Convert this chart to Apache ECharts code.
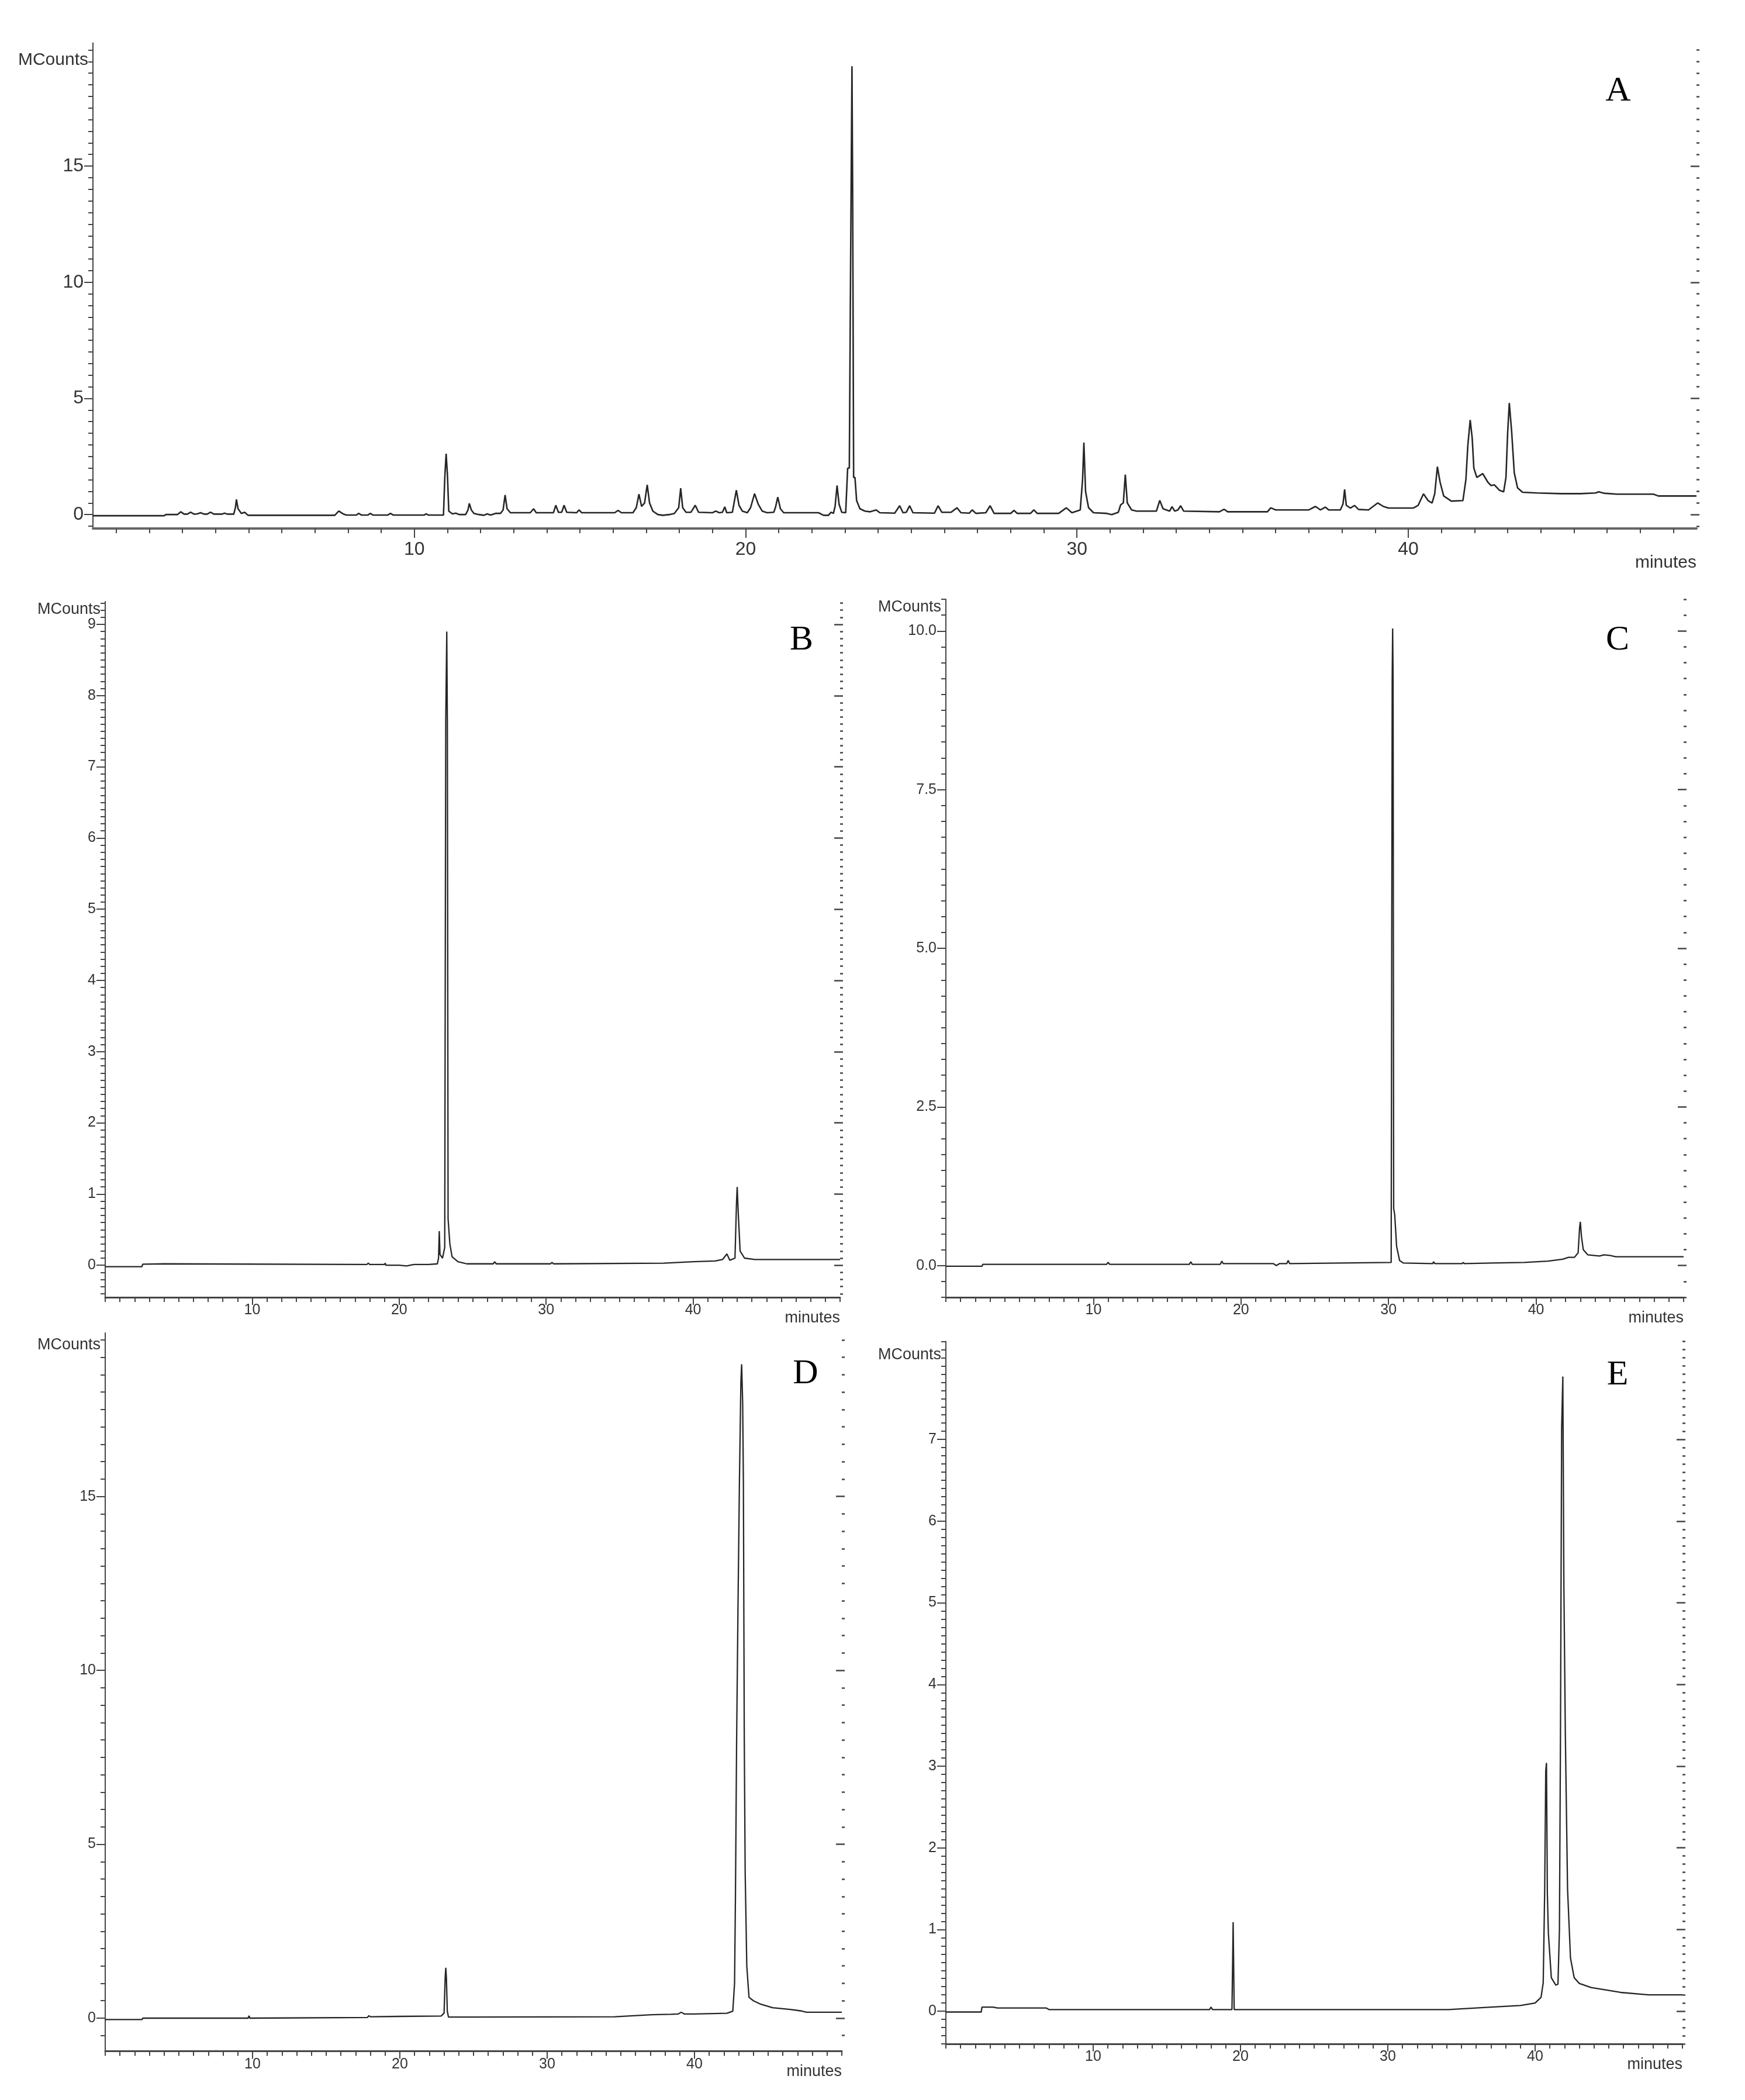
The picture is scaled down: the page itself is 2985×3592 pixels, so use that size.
<!DOCTYPE html>
<html><head><meta charset="utf-8">
<script src="https://cdn.jsdelivr.net/npm/echarts@6/dist/echarts.min.js"></script>
<style>html,body{margin:0;padding:0;background:#fff}#c{width:2985px;height:3592px}</style>
</head><body><div id="c"></div>
<script>
// ---------------- DATA (time in minutes, signal in MCounts) ----------------
const traceA = [
[0.3,-0.05],[2.45,-0.05],[2.5,0.0],[2.85,0.0],[2.95,0.12],[3.05,0.02],[3.15,0.02],[3.25,0.1],[3.35,0.02],[3.45,0.03],[3.55,0.08],[3.65,0.02],[3.75,0.02],[3.85,0.1],[3.95,0.02],[4.2,0.02],[4.27,0.06],[4.35,0.02],[4.55,0.02],[4.6,0.3],[4.63,0.65],[4.68,0.25],[4.78,0.05],[4.88,0.1],[4.98,-0.03],
[7.6,-0.03],[7.72,0.15],[7.85,0.03],[7.95,-0.02],[8.25,-0.02],[8.32,0.05],[8.4,-0.02],[8.6,-0.02],[8.67,0.05],[8.75,-0.02],[9.2,-0.02],[9.28,0.05],[9.36,-0.02],[10.3,-0.02],[10.36,0.03],[10.42,-0.02],[10.88,-0.02],[10.92,1.6],[10.96,2.62],[11.0,1.7],[11.04,0.15],[11.15,0.03],[11.25,0.06],[11.35,0.0],[11.55,0.0],[11.62,0.2],[11.66,0.48],[11.72,0.2],[11.8,0.05],[11.95,0.0],[12.1,-0.03],[12.2,0.03],[12.3,-0.02],[12.45,0.05],[12.6,0.05],[12.68,0.2],[12.74,0.84],[12.8,0.25],[12.9,0.08],[13.5,0.08],[13.6,0.25],[13.68,0.08],[14.2,0.08],[14.27,0.4],[14.35,0.1],[14.45,0.1],[14.52,0.4],[14.6,0.1],[14.9,0.08],[14.97,0.2],[15.05,0.08],[16.05,0.08],[16.15,0.18],[16.25,0.08],[16.6,0.08],[16.7,0.3],[16.78,0.88],[16.86,0.35],[16.95,0.5],[17.03,1.28],[17.1,0.5],[17.2,0.15],[17.35,0.0],[17.5,-0.03],[17.7,0.0],[17.85,0.05],[17.98,0.3],[18.04,1.13],[18.1,0.3],[18.2,0.1],[18.35,0.1],[18.48,0.4],[18.58,0.1],[19.0,0.08],[19.1,0.15],[19.2,0.08],[19.3,0.1],[19.37,0.33],[19.43,0.08],[19.6,0.1],[19.72,1.05],[19.8,0.4],[19.9,0.15],[20.05,0.08],[20.15,0.3],[20.27,0.9],[20.38,0.45],[20.5,0.15],[20.65,0.08],[20.85,0.1],[20.9,0.3],[20.97,0.75],[21.05,0.25],[21.15,0.08],[22.2,0.08],[22.35,-0.03],[22.5,-0.03],[22.58,0.1],[22.65,0.05],[22.7,0.35],[22.76,1.25],[22.82,0.45],[22.9,0.1],[23.02,0.08],[23.08,2.0],[23.13,2.0],[23.17,11.1],[23.21,19.3],[23.23,14.0],[23.26,1.6],[23.3,1.6],[23.35,0.6],[23.45,0.25],[23.6,0.15],[23.75,0.12],[23.94,0.2],[24.05,0.08],[24.5,0.06],[24.65,0.38],[24.75,0.08],[24.85,0.1],[24.95,0.38],[25.05,0.08],[25.7,0.06],[25.81,0.38],[25.92,0.1],[26.2,0.1],[26.38,0.29],[26.5,0.08],[26.75,0.06],[26.84,0.2],[26.95,0.05],[27.25,0.08],[27.38,0.38],[27.5,0.05],[28.0,0.05],[28.1,0.18],[28.2,0.05],[28.6,0.05],[28.7,0.2],[28.8,0.05],[29.45,0.05],[29.68,0.29],[29.85,0.08],[30.1,0.2],[30.17,1.5],[30.21,3.1],[30.26,1.0],[30.35,0.3],[30.5,0.08],[30.9,0.05],[31.05,0.0],[31.25,0.1],[31.32,0.42],[31.4,0.5],[31.46,1.72],[31.52,0.5],[31.65,0.2],[31.8,0.15],[32.4,0.15],[32.5,0.61],[32.6,0.25],[32.8,0.15],[32.87,0.34],[32.95,0.15],[33.05,0.2],[33.13,0.38],[33.22,0.15],[34.3,0.12],[34.44,0.23],[34.55,0.12],[35.75,0.12],[35.85,0.29],[36.0,0.2],[37.0,0.2],[37.2,0.35],[37.35,0.2],[37.5,0.32],[37.6,0.2],[37.95,0.2],[38.03,0.45],[38.08,1.08],[38.13,0.4],[38.25,0.28],[38.38,0.39],[38.5,0.22],[38.8,0.2],[39.08,0.5],[39.25,0.35],[39.4,0.28],[40.15,0.28],[40.3,0.4],[40.46,0.89],[40.6,0.6],[40.72,0.5],[40.8,0.9],[40.88,2.06],[40.96,1.4],[41.07,0.8],[41.3,0.58],[41.65,0.6],[41.74,1.5],[41.8,3.0],[41.87,4.07],[41.93,3.3],[41.98,2.0],[42.07,1.6],[42.25,1.76],[42.4,1.4],[42.5,1.25],[42.6,1.28],[42.75,1.05],[42.88,0.98],[42.95,1.6],[43.0,3.5],[43.05,4.8],[43.12,3.6],[43.2,1.8],[43.3,1.15],[43.45,0.96],[43.9,0.93],[44.6,0.9],[45.2,0.9],[45.65,0.93],[45.75,0.98],[45.9,0.92],[46.3,0.88],[47.4,0.88],[47.55,0.8],[48.7,0.8]
];
const traceB = [
[0,-0.02],[2.5,-0.02],[2.55,0.015],[4.0,0.02],[17.8,0.01],[17.9,0.03],[18.0,0.01],[19.0,0.01],[19.05,0.03],[19.1,0.0],[20.0,0.0],[20.5,-0.01],[21.0,0.01],[22.0,0.01],[22.6,0.02],[22.68,0.1],[22.73,0.48],[22.78,0.15],[22.95,0.1],[23.1,0.25],[23.17,7.65],[23.24,8.9],[23.28,7.6],[23.33,0.65],[23.45,0.3],[23.6,0.12],[24.0,0.05],[24.6,0.02],[26.4,0.02],[26.5,0.05],[26.6,0.02],[30.3,0.02],[30.4,0.04],[30.5,0.02],[38.0,0.03],[40.0,0.05],[41.5,0.06],[42.0,0.08],[42.3,0.16],[42.5,0.07],[42.85,0.1],[42.95,0.85],[43.0,1.1],[43.08,0.7],[43.2,0.2],[43.5,0.1],[44.2,0.08],[50,0.08]
];
const traceC = [
[0,-0.01],[2.45,-0.01],[2.5,0.02],[10.9,0.02],[11.0,0.05],[11.1,0.02],[16.5,0.02],[16.6,0.06],[16.7,0.02],[18.6,0.02],[18.7,0.07],[18.8,0.03],[22.2,0.03],[22.4,0.0],[22.6,0.03],[23.1,0.03],[23.2,0.08],[23.3,0.03],[30.18,0.05],[30.25,9.27],[30.28,10.04],[30.31,9.27],[30.35,0.9],[30.42,0.8],[30.55,0.3],[30.75,0.08],[31.0,0.04],[33.0,0.03],[33.05,0.06],[33.15,0.03],[35.0,0.03],[35.05,0.05],[35.15,0.03],[37.0,0.04],[39.2,0.05],[40.8,0.07],[41.8,0.1],[42.2,0.13],[42.6,0.13],[42.85,0.2],[42.95,0.6],[43.0,0.69],[43.08,0.45],[43.2,0.25],[43.5,0.17],[44.3,0.15],[44.6,0.17],[45.0,0.16],[45.4,0.14],[50,0.14]
];
const traceD = [
[0,-0.04],[2.5,-0.04],[2.55,0.0],[9.7,0.0],[9.76,0.07],[9.82,0.0],[17.8,0.02],[17.9,0.07],[18.0,0.04],[20.0,0.05],[22.8,0.06],[23.0,0.14],[23.08,1.2],[23.12,1.45],[23.16,1.15],[23.22,0.2],[23.3,0.03],[25.0,0.03],[34.6,0.04],[37.1,0.1],[38.4,0.11],[38.9,0.12],[39.1,0.17],[39.3,0.12],[40.0,0.12],[42.2,0.14],[42.6,0.2],[42.72,1.0],[42.78,3.5],[42.86,8.0],[42.95,11.7],[43.05,15.4],[43.15,18.3],[43.2,18.8],[43.27,17.7],[43.32,15.4],[43.38,8.0],[43.44,4.2],[43.55,1.5],[43.7,0.6],[44.0,0.5],[44.5,0.4],[45.3,0.3],[46.5,0.25],[47.2,0.21],[47.6,0.17],[50,0.17]
];
const traceE = [
[0,-0.01],[2.4,-0.01],[2.45,0.05],[3.2,0.05],[3.5,0.04],[6.8,0.04],[7.0,0.02],[17.9,0.02],[18.0,0.05],[18.1,0.02],[19.42,0.02],[19.47,0.65],[19.5,1.09],[19.53,0.65],[19.57,0.02],[34.1,0.02],[37.0,0.05],[39.0,0.07],[40.0,0.1],[40.4,0.17],[40.55,0.35],[40.65,1.5],[40.72,2.94],[40.77,3.04],[40.83,1.44],[40.9,0.95],[41.1,0.41],[41.4,0.32],[41.55,0.33],[41.65,1.0],[41.72,3.37],[41.8,7.15],[41.88,7.77],[41.95,5.24],[42.05,3.4],[42.2,1.5],[42.4,0.65],[42.65,0.41],[43.0,0.34],[43.8,0.29],[45.8,0.23],[47.7,0.2],[50,0.2]
];
// tick labels
const xTickLabels = [10, 20, 30, 40];
const yTickLabelsA = [0, 5, 10, 15];
const yTickLabelsB = [0, 1, 2, 3, 4, 5, 6, 7, 8, 9];
const yTickLabelsC = [0, 2.5, 5, 7.5, 10];
const yTickLabelsD = [0, 5, 10, 15];
const yTickLabelsE = [0, 1, 2, 3, 4, 5, 6, 7];
const panelLetters = ['A', 'B', 'C', 'D', 'E'];

// ---------------- LAYOUT / STYLE ----------------
const panels = [
  {trace: traceA, yLabels: yTickLabelsA, yFmt: v => String(v), grid: {left: 159, top: 73.5, width: 2743, height: 830.5},
   x: [0.3, 48.7], y: [-0.6, 20.3], yMinor: 0.5, big: true, nameGapY: -29, letter: [2768, 156]},
  {trace: traceB, yLabels: yTickLabelsB, yFmt: v => String(v), grid: {left: 180, top: 1029, width: 1257, height: 1190},
   x: [0, 50], y: [-0.45, 9.32], yMinor: 0.1, big: false, nameGapY: -14, letter: [1371, 1095]},
  {trace: traceC, yLabels: yTickLabelsC, yFmt: v => v.toFixed(1), grid: {left: 1618, top: 1025, width: 1262, height: 1194},
   x: [0, 50], y: [-0.5, 10.5], yMinor: 0.25, big: false, nameGapY: -14, letter: [2767, 1095]},
  {trace: traceD, yLabels: yTickLabelsD, yFmt: v => String(v), grid: {left: 180, top: 2280, width: 1260, height: 1228.5},
   x: [0, 50], y: [-0.95, 19.7], yMinor: 0.5, big: false, nameGapY: -21, letter: [1378, 2350]},
  {trace: traceE, yLabels: yTickLabelsE, yFmt: v => String(v), grid: {left: 1618, top: 2294.5, width: 1260, height: 1201.5},
   x: [0, 50], y: [-0.4, 8.2], yMinor: 0.1, big: false, nameGapY: -23, letter: [2767, 2352]}
];

function stepsIn(min, max, step) {
  const out = [];
  const k0 = Math.ceil(min / step - 1e-9), k1 = Math.floor(max / step + 1e-9);
  for (let k = k0; k <= k1; k++) out.push(+(k * step).toFixed(4));
  return out;
}

const FONT = 'Liberation Sans';
const grids = [], xAxes = [], yAxes = [], series = [], graphics = [];
panels.forEach((p, i) => {
  grids.push(Object.assign({containLabel: false}, p.grid));
  const labFont = p.big ? 32 : 25, nameFont = p.big ? 30 : 27;
  const axisCol = '#444', labCol = '#333';
  const xMinorTicks = stepsIn(p.x[0], p.x[1], 1);
  const xMajor = xTickLabels.filter(v => v >= p.x[0] && v <= p.x[1]);
  xAxes.push({
    gridIndex: i, type: 'value', position: 'bottom', min: p.x[0], max: p.x[1],
    axisLine: {show: true, onZero: false, lineStyle: {color: p.big ? '#666' : axisCol, width: p.big ? 4 : 3}},
    axisTick: {show: true, customValues: xMajor, length: p.big ? 16 : 13, lineStyle: {color: axisCol, width: 2}},
    axisLabel: {show: true, customValues: xMajor, fontSize: labFont, fontFamily: FONT, color: labCol, margin: p.big ? 20 : 10},
    splitLine: {show: false},
    name: 'minutes', nameLocation: 'end', nameGap: 0, nameMoveOverlap: false,
    nameTextStyle: {fontSize: nameFont, fontFamily: FONT, color: labCol, align: 'right', verticalAlign: 'top', padding: [p.big ? 44 : 22, 0, 0, 0]}
  });
  xAxes.push({
    gridIndex: i, type: 'value', position: 'bottom', min: p.x[0], max: p.x[1],
    axisLine: {show: false, onZero: false},
    axisTick: {show: true, customValues: xMinorTicks, length: 8, lineStyle: {color: axisCol, width: 2}},
    axisLabel: {show: false}, splitLine: {show: false}
  });
  const yMinorTicks = stepsIn(p.y[0], p.y[1], p.yMinor);
  const yMajor = p.yLabels.filter(v => v >= p.y[0] && v <= p.y[1]);
  yAxes.push({
    gridIndex: i, type: 'value', position: 'left', min: p.y[0], max: p.y[1],
    axisLine: {show: true, onZero: false, lineStyle: {color: axisCol, width: 2}},
    axisTick: {show: true, customValues: yMajor, length: 15, lineStyle: {color: axisCol, width: 2}},
    axisLabel: {show: true, customValues: yMajor, formatter: p.yFmt, fontSize: labFont, fontFamily: FONT, color: labCol, margin: 16},
    splitLine: {show: false},
    name: 'MCounts', nameLocation: 'end', nameGap: p.nameGapY, nameMoveOverlap: false,
    nameTextStyle: {fontSize: nameFont, fontFamily: FONT, color: labCol, align: 'right', verticalAlign: 'middle', padding: [0, 8, 0, 0]}
  });
  yAxes.push({
    gridIndex: i, type: 'value', position: 'left', min: p.y[0], max: p.y[1],
    axisLine: {show: false, onZero: false},
    axisTick: {show: true, customValues: yMinorTicks, length: 8, lineStyle: {color: axisCol, width: 2}},
    axisLabel: {show: false}, splitLine: {show: false}
  });
  // right-hand dotted tick column
  yAxes.push({
    gridIndex: i, type: 'value', position: 'right', min: p.y[0], max: p.y[1],
    axisLine: {show: false, onZero: false},
    axisTick: {show: true, inside: false, customValues: yMinorTicks, length: 5, lineStyle: {color: '#444', width: 2.5}},
    axisLabel: {show: false}, splitLine: {show: false}
  });
  yAxes.push({
    gridIndex: i, type: 'value', position: 'right', min: p.y[0], max: p.y[1],
    axisLine: {show: false, onZero: false},
    axisTick: {show: true, inside: true, customValues: yMajor, length: 10, lineStyle: {color: '#444', width: 2.5}},
    axisLabel: {show: false}, splitLine: {show: false}
  });
  series.push({
    type: 'line', xAxisIndex: 2 * i, yAxisIndex: 4 * i, data: p.trace,
    showSymbol: false, symbol: 'none', clip: true, silent: true,
    lineStyle: {color: '#262626', width: p.big ? 2.6 : 2.3}
  });
  graphics.push({
    type: 'text', x: p.letter[0], y: p.letter[1], silent: true,
    style: {text: panelLetters[i], fontSize: 60, fontFamily: 'Liberation Serif', fill: '#000', align: 'center', verticalAlign: 'middle'}
  });
});

const chart = echarts.init(document.getElementById('c'), null, {renderer: 'canvas'});
chart.setOption({
  animation: false,
  backgroundColor: '#fff',
  grid: grids, xAxis: xAxes, yAxis: yAxes, series: series, graphic: graphics
});
</script></body></html>
